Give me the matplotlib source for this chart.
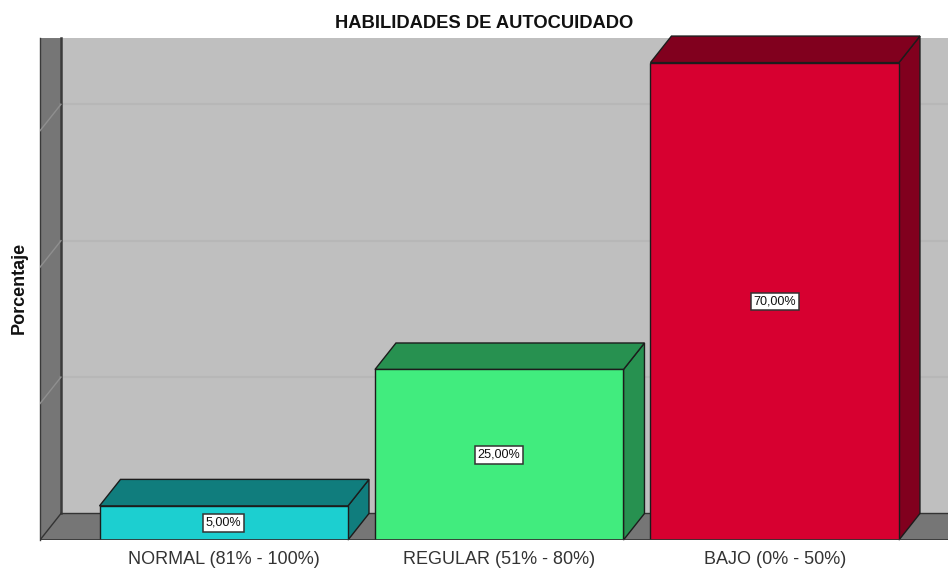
import matplotlib
matplotlib.use('Agg')
import matplotlib.pyplot as plt
from matplotlib.patches import Polygon

plt.rcParams['font.family'] = ['Liberation Sans', 'DejaVu Sans']

categories = ['NORMAL (81% - 100%)', 'REGULAR (51% - 80%)', 'BAJO (0% - 50%)']
values = [5, 25, 70]
value_labels = ['5,00%', '25,00%', '70,00%']
front_colors = ['#1ccfd0', '#41ec7e', '#d70030']
side_colors = ['#107d7d', '#279150', '#81001e']
grid_values = [20, 40, 60]

BAR_W = 0.902
DX = 0.0762   # depth of the fake 3d, x units
DY = 3.886    # depth of the fake 3d, y units
X0, X1 = -0.667, 2.629
Y1 = 73.75
EDGE = '#1c1c1c'

fig = plt.figure(figsize=(9.48, 5.68), dpi=100)
ax = fig.add_axes([40 / 948, 1 - 540 / 568, 908 / 948, 503 / 568])
ax.set_xlim(X0, X1)
ax.set_ylim(0, Y1)


def poly(pts, color, z, edge=EDGE, lw=1.0):
    ax.add_patch(Polygon(pts, closed=True, facecolor=color, edgecolor=edge, linewidth=lw, zorder=z, clip_on=False))


top = Y1 - 0.15
back = X0 + DX

# Walls and floor
poly([(back, DY), (X1, DY), (X1, top), (back, top)], '#bfbfbf', 1, edge='none', lw=0)
poly([(X0, 0), (back, DY), (back, top), (X0, top)], '#767676', 2, edge='none', lw=0)
poly([(X0, 0), (X1, 0), (X1, DY), (back, DY)], '#767676', 2, edge='none', lw=0)
ax.plot([X0, X0], [0, top], color='#3a3a3a', lw=1.0, zorder=3, clip_on=False)
ax.plot([back, back], [DY, top], color='#3a3a3a', lw=1.8, zorder=3, clip_on=False)
ax.plot([X0, back], [0, DY], color='#333333', lw=1.0, zorder=3)
ax.plot([back, X1], [DY, DY], color='#333333', lw=1.0, zorder=3)

# Gridlines on back wall and left wall
for g in grid_values:
    ax.plot([back, X1], [g + DY, g + DY], color='#b7b7b7', lw=1.6, zorder=2)
    ax.plot([X0, back], [g, g + DY], color='#8f8f8f', lw=1.0, zorder=3)

# Bars
for i, v in enumerate(values):
    l = i - BAR_W / 2
    r = i + BAR_W / 2
    ax.bar(i, v, width=BAR_W, color=front_colors[i], edgecolor=EDGE, linewidth=1.0, zorder=5)
    poly([(r, 0), (r + DX, DY), (r + DX, v + DY), (r, v)], side_colors[i], 4)
    poly([(l, v), (l + DX, v + DY), (r + DX, v + DY), (r, v)], side_colors[i], 4)
    ax.text(i, v / 2, value_labels[i], ha='center', va='center', fontsize=9.1, color='#111111', zorder=7,
            bbox=dict(boxstyle='square,pad=0.22', facecolor='white', edgecolor='#333333', linewidth=1.1))

ax.plot([X0, X1], [0, 0], color='#333333', lw=1.2, zorder=6)

for s in ax.spines.values():
    s.set_visible(False)
ax.set_yticks([])
ax.set_xticks(range(len(categories)))
ax.set_xticklabels(categories, fontsize=12.95, color='#333333')
ax.tick_params(axis='x', length=0, pad=8)
ax.patch.set_alpha(0)

fig.text(484 / 948, 1 - 24 / 568, 'HABILIDADES DE AUTOCUIDADO', ha='center', va='center', fontsize=13.2, fontweight='bold', color='#111111')
fig.text(19.5 / 948, 1 - 287.5 / 568, 'Porcentaje', rotation=90, ha='center', va='center', fontsize=13, fontweight='bold', color='#111111')

fig.savefig('out.png', dpi=100)
plt.close()
